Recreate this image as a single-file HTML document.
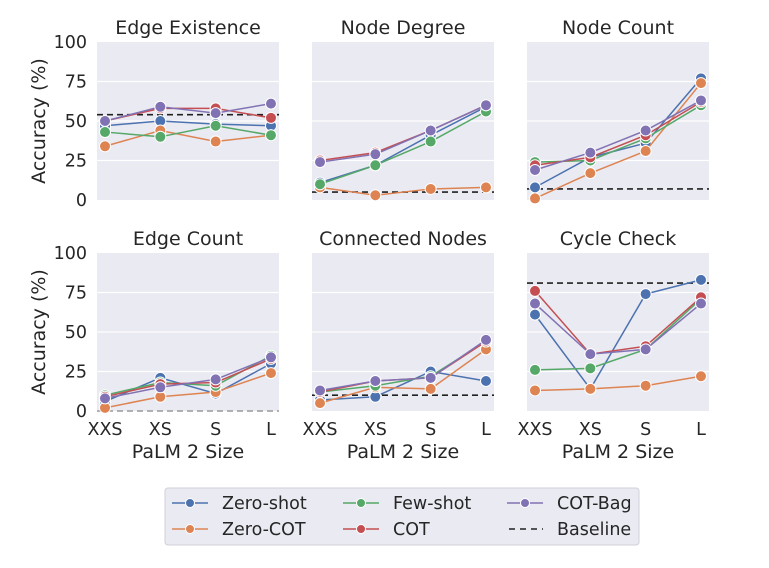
<!DOCTYPE html>
<html><head><meta charset="utf-8">
<style>
html,body{margin:0;padding:0;background:#fff;}
svg{display:block;font-family:"DejaVu Sans","Liberation Sans",sans-serif;}
</style></head>
<body>
<svg id="chart" width="769" height="568" viewBox="0 0 769 568"></svg>
<script>
const categories = ["XXS","XS","S","L"];
const yTicks = [0,25,50,75,100];
const seriesNames = ["Zero-shot","Zero-COT","Few-shot","COT","COT-Bag"];
const seriesColors = ["#4c72b0","#dd8452","#55a868","#c44e52","#8172b3"];
const titles = ["Edge Existence","Node Degree","Node Count","Edge Count","Connected Nodes","Cycle Check"];
// values per panel: [zero-shot, zero-cot, few-shot, cot, cot-bag]
const edgeExistence = [[47,50,48,47],[34,44,37,41],[43,40,47,41],[50,58,58,52],[50,59,55,61]];
const nodeDegree = [[11,22,41,59],[8,3,7,8],[10,22,37,56],[25,30,44,60],[24,29,44,60]];
const nodeCount = [[8,27,36,77],[1,17,31,74],[24,25,39,60],[22,27,41,62],[19,30,44,63]];
const edgeCount = [[6,21,11,30],[2,9,12,24],[10,18,16,35],[9,17,18,33],[8,15,20,34]];
const connectedNodes = [[7,9,25,19],[5,15,14,39],[12,16,22,44],[12,19,21,44],[13,19,21,45]];
const cycleCheck = [[61,14,74,83],[13,14,16,22],[26,27,39,71],[76,36,41,72],[68,36,39,68]];
const baselines = [54,5,7,0,10,81];
const panelData = [edgeExistence,nodeDegree,nodeCount,edgeCount,connectedNodes,cycleCheck];

const svg = document.getElementById('chart');
const NS = "http://www.w3.org/2000/svg";
function mk(tag, attrs, parent){
  const e = document.createElementNS(NS, tag);
  for (const k in attrs) e.setAttribute(k, attrs[k]);
  (parent||svg).appendChild(e);
  return e;
}
const panelX = [97,312,527], panelY = [42,253], PW = 182, PH = 158;

panelData.forEach((data, p) => {
  const col = p % 3, row = Math.floor(p / 3);
  const x0 = panelX[col], y0 = panelY[row];
  const g = mk('g', {});
  
  
  const xs = i => x0 + PW*(0.044 + i*(0.912/(categories.length-1)));
  const ys = v => y0 + PH - v/100*PH;
  const bg = mk('rect', {x:x0, y:y0, width:PW, height:PH, fill:'#eaeaf2'}, g);
  
  
  yTicks.forEach(t => {
    if (t>0 && t<100) {
      const gl = mk('line', {x1:x0, x2:x0+PW, y1:ys(t), y2:ys(t), stroke:'#fff', 'stroke-width':1.2}, g);
      
      
    }
    if (col === 0) {
      const tl = mk('text', {x:x0-10, y:ys(t)+6, 'text-anchor':'end', 'font-size':17.5, fill:'#262626'}, g);
      tl.textContent = t;
      
      
    }
  });
  if (row === 1) {
    categories.forEach((c,i) => {
      const xl = mk('text', {x:xs(i), y:435, 'text-anchor':'middle', 'font-size':17.5, fill:'#262626'}, g);
      xl.textContent = c;
      
      
    });
    const xt = mk('text', {x:x0+PW/2, y:458, 'text-anchor':'middle', 'font-size':19, fill:'#262626'}, g);
    xt.textContent = 'PaLM 2 Size';
    
    
  }
  if (col === 0) {
    const yt = mk('text', {x:0, y:0, 'text-anchor':'middle', 'font-size':19, fill:'#262626', transform:`translate(45,${y0+PH/2}) rotate(-90)`}, g);
    yt.textContent = 'Accuracy (%)';
    
    
  }
  const tt = mk('text', {x:x0+PW/2, y:y0-8, 'text-anchor':'middle', 'font-size':19, fill:'#262626'}, g);
  tt.textContent = titles[p];
  
  
  const b = baselines[p];
  const bl = mk('line', {x1:x0, x2:x0+PW, y1:ys(b), y2:ys(b), stroke: b===0?'#999':'#222', 'stroke-width':1.6, 'stroke-dasharray':'6,4'}, g);
  
  
  data.forEach((vals, s) => {
    const pts = vals.map((v,i)=>xs(i)+','+ys(v)).join(' ');
    const pl = mk('polyline', {points:pts, fill:'none', stroke:seriesColors[s], 'stroke-width':1.5}, g);
    
    
    vals.forEach((v,i) => {
      const c = mk('circle', {cx:xs(i), cy:ys(v), r:5.5, fill:seriesColors[s], stroke:'#fff', 'stroke-width':1}, g);
      
      
    });
  });
});

// legend
const lg = mk('g', {});


mk('rect', {x:165, y:488, width:474, height:57, rx:3, fill:'#eaeaf2', stroke:'#d0d0d8', 'stroke-width':1}, lg);
const legendItems = [
  {n:'Zero-shot', c:seriesColors[0], x:172, y:503},
  {n:'Zero-COT', c:seriesColors[1], x:172, y:529},
  {n:'Few-shot', c:seriesColors[2], x:343, y:503},
  {n:'COT', c:seriesColors[3], x:343, y:529},
  {n:'COT-Bag', c:seriesColors[4], x:507, y:503},
  {n:'Baseline', c:'#222', x:507, y:529, dash:true}
];
legendItems.forEach(it => {
  const e = mk('g', {}, lg);
  
  
  if (it.dash) {
    mk('line', {x1:it.x+2, x2:it.x+36, y1:it.y, y2:it.y, stroke:it.c, 'stroke-width':1.6, 'stroke-dasharray':'6,5'}, e);
  } else {
    mk('line', {x1:it.x, x2:it.x+36, y1:it.y, y2:it.y, stroke:it.c, 'stroke-width':1.5}, e);
    mk('circle', {cx:it.x+18, cy:it.y, r:4.5, fill:it.c, stroke:'#fff', 'stroke-width':1}, e);
  }
  const t = mk('text', {x:it.x+50, y:it.y+6, 'font-size':17.5, fill:'#262626'}, e);
  t.textContent = it.n;
});
</script>
</body></html>
